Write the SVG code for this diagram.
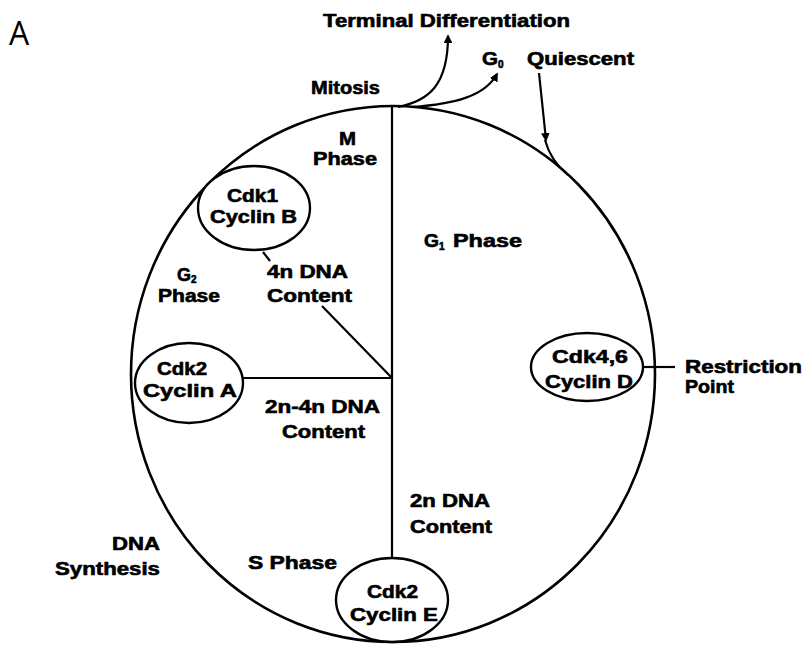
<svg xmlns="http://www.w3.org/2000/svg" width="812" height="656" viewBox="0 0 812 656">
<defs>
<marker id="ah" viewBox="0 0 10 10" refX="8" refY="5" markerWidth="4" markerHeight="4" orient="auto" markerUnits="strokeWidth">
<path d="M0,0 L10,5 L0,10 z" fill="#000"/>
</marker>
</defs>
<style>
.t{font-family:"Liberation Sans",Arial,sans-serif;font-weight:bold;font-size:18px;fill:#000;stroke:#000;stroke-width:0.6}
.sub{font-size:10px}
.ln{fill:none;stroke:#000;stroke-width:2.2}
.el{fill:#fff;stroke:#000;stroke-width:2.4}
</style>
<rect width="812" height="656" fill="#fff"/>
<text x="9" y="45" font-family="'Open Sans','Liberation Sans',sans-serif" font-size="32" fill="#000">A</text>

<g id="cycle">
<ellipse cx="393" cy="374" rx="262" ry="268" fill="none" stroke="#000" stroke-width="2.6"/>
</g>

<g id="connectors">
<line class="ln" x1="392" y1="106" x2="392" y2="558"/>
<line class="ln" x1="243" y1="378" x2="392" y2="378"/>
<line class="ln" x1="322" y1="306" x2="392" y2="378"/>
<line class="ln" x1="263" y1="252" x2="270" y2="261"/>
<line class="ln" x1="643" y1="367" x2="675" y2="367"/>
<path class="ln" d="M398 107 C428 101 448 86 448 36" marker-end="url(#ah)"/>
<path class="ln" d="M412 107 C455 104 485 96 497 74" marker-end="url(#ah)"/>
<path class="ln" d="M539 73 C542 100 544 120 546 140" marker-end="url(#ah)"/>
<path class="ln" d="M545 140 C549 155 557 166 568 175"/>
</g>

<g id="terminal">
<text class="t" x="323" y="27" textLength="247" lengthAdjust="spacingAndGlyphs">Terminal Differentiation</text>
</g>
<g id="g0">
<text class="t" x="482" y="65" textLength="16" lengthAdjust="spacingAndGlyphs">G</text>
<text class="t sub" x="498" y="68">0</text>
<text class="t" x="527" y="65" textLength="107" lengthAdjust="spacingAndGlyphs">Quiescent</text>
</g>
<g id="mitosis">
<text class="t" x="311" y="94" textLength="69" lengthAdjust="spacingAndGlyphs">Mitosis</text>
</g>
<g id="m-phase">
<text class="t" x="339" y="145" textLength="17" lengthAdjust="spacingAndGlyphs">M</text>
<text class="t" x="313" y="165" textLength="64" lengthAdjust="spacingAndGlyphs">Phase</text>
</g>
<g id="cdk1">
<ellipse class="el" cx="254" cy="208" rx="56" ry="42"/>
<text class="t" x="227" y="202" textLength="51" lengthAdjust="spacingAndGlyphs">Cdk1</text>
<text class="t" x="210" y="223" textLength="87" lengthAdjust="spacingAndGlyphs">Cyclin B</text>
</g>
<g id="g1-phase">
<text class="t" x="424" y="247" textLength="15" lengthAdjust="spacingAndGlyphs">G</text>
<text class="t sub" x="439" y="250">1</text>
<text class="t" x="453" y="247" textLength="69" lengthAdjust="spacingAndGlyphs">Phase</text>
</g>
<g id="g2-phase">
<text class="t" x="177" y="281" textLength="14" lengthAdjust="spacingAndGlyphs">G</text>
<text class="t sub" x="191" y="283">2</text>
<text class="t" x="158" y="302" textLength="62" lengthAdjust="spacingAndGlyphs">Phase</text>
</g>
<g id="dna-4n">
<text class="t" x="267" y="278" textLength="81" lengthAdjust="spacingAndGlyphs">4n DNA</text>
<text class="t" x="267" y="302" textLength="85" lengthAdjust="spacingAndGlyphs">Content</text>
</g>
<g id="cdk2-a">
<ellipse class="el" cx="189" cy="383" rx="54" ry="40"/>
<text class="t" x="157" y="375" textLength="50" lengthAdjust="spacingAndGlyphs">Cdk2</text>
<text class="t" x="143" y="397" textLength="94" lengthAdjust="spacingAndGlyphs">Cyclin A</text>
</g>
<g id="dna-2n4n">
<text class="t" x="265" y="413" textLength="115" lengthAdjust="spacingAndGlyphs">2n-4n DNA</text>
<text class="t" x="282" y="438" textLength="83" lengthAdjust="spacingAndGlyphs">Content</text>
</g>
<g id="cdk46-d">
<ellipse class="el" cx="587" cy="367" rx="56" ry="34"/>
<text class="t" x="552" y="363" textLength="76" lengthAdjust="spacingAndGlyphs">Cdk4,6</text>
<text class="t" x="545" y="388" textLength="88" lengthAdjust="spacingAndGlyphs">Cyclin D</text>
</g>
<g id="restriction">
<text class="t" x="685" y="373" textLength="117" lengthAdjust="spacingAndGlyphs">Restriction</text>
<text class="t" x="685" y="393" textLength="49" lengthAdjust="spacingAndGlyphs">Point</text>
</g>
<g id="dna-2n">
<text class="t" x="410" y="507" textLength="80" lengthAdjust="spacingAndGlyphs">2n DNA</text>
<text class="t" x="410" y="533" textLength="82" lengthAdjust="spacingAndGlyphs">Content</text>
</g>
<g id="dna-synthesis">
<text class="t" x="112" y="550" textLength="48" lengthAdjust="spacingAndGlyphs">DNA</text>
<text class="t" x="55" y="575" textLength="105" lengthAdjust="spacingAndGlyphs">Synthesis</text>
</g>
<g id="s-phase">
<text class="t" x="248" y="569" textLength="89" lengthAdjust="spacingAndGlyphs">S Phase</text>
</g>
<g id="cdk2-e">
<ellipse class="el" cx="392" cy="600" rx="56" ry="42"/>
<text class="t" x="367" y="598" textLength="51" lengthAdjust="spacingAndGlyphs">Cdk2</text>
<text class="t" x="350" y="621" textLength="88" lengthAdjust="spacingAndGlyphs">Cyclin E</text>
</g>
</svg>
